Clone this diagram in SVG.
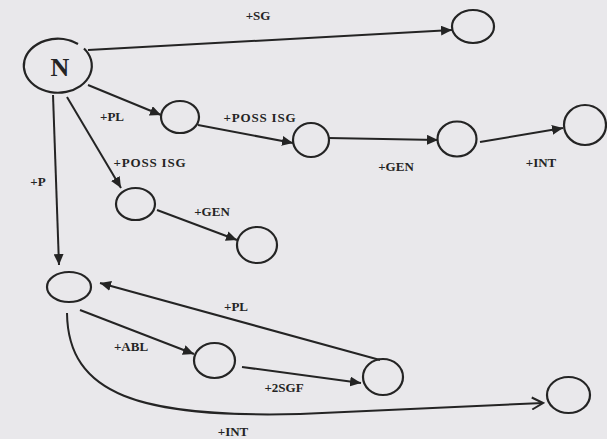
<svg xmlns="http://www.w3.org/2000/svg" width="607" height="439" viewBox="0 0 607 439">
  <style>
    .node { fill: none; stroke: #242424; stroke-width: 2.2; }
    .edge { fill: none; stroke: #242424; stroke-width: 2; }
    .lbl { font-family: "Liberation Serif", "Times New Roman", serif; font-weight: bold; font-size: 13px; fill: #242424; text-anchor: middle; }
    .big { font-family: "Liberation Serif", "Times New Roman", serif; font-weight: bold; font-size: 26px; fill: #242424; text-anchor: middle; }
  </style>
  <defs>
    <marker id="tri" markerUnits="userSpaceOnUse" markerWidth="12" markerHeight="10" refX="11" refY="5" orient="auto">
      <path d="M0,0 L11,5 L0,10 Z" fill="#242424"/>
    </marker>
    <marker id="vee" markerUnits="userSpaceOnUse" markerWidth="14" markerHeight="14" refX="12" refY="7" orient="auto">
      <path d="M1,1 L12,7 L1,13" fill="none" stroke="#242424" stroke-width="2"/>
    </marker>
  </defs>
  <rect width="607" height="439" fill="#e9e8eb"/>

  <g id="connectors">
    <path class="edge" d="M88,50 L452,30" marker-end="url(#tri)"/>
    <path class="edge" d="M88,85 L161,115" marker-end="url(#tri)"/>
    <path class="edge" d="M67,97 L121,188" marker-end="url(#tri)"/>
    <path class="edge" d="M53,95 L59,265" marker-end="url(#tri)"/>
    <path class="edge" d="M198,125 L293,143" marker-end="url(#tri)"/>
    <path class="edge" d="M328,138 L438,140" marker-end="url(#tri)"/>
    <path class="edge" d="M480,142 L563,128" marker-end="url(#tri)"/>
    <path class="edge" d="M157,210 L237,240" marker-end="url(#tri)"/>
    <path class="edge" d="M380,360 L100,283" marker-end="url(#tri)"/>
    <path class="edge" d="M80,310 L194,354" marker-end="url(#tri)"/>
    <path class="edge" d="M242,367 L361,383" marker-end="url(#tri)"/>
    <path class="edge" d="M67,313 C68,395 140,418 300,414 L543,403" marker-end="url(#vee)"/>
  </g>

  <!-- root node: outline left open at the upper right where the +SG line leaves -->
  <g id="n-root">
    <path class="node" d="M84,48.5 A34,27 0 1,1 78,44"/>
    <text class="big" x="60" y="76">N</text>
  </g>
  <g id="n-sg"><ellipse class="node" cx="473" cy="26.5" rx="21" ry="16.5"/></g>
  <g id="n-pl"><ellipse class="node" cx="180" cy="117" rx="19" ry="16"/></g>
  <g id="n-pl-poss"><ellipse class="node" cx="311" cy="140" rx="18" ry="17"/></g>
  <g id="n-pl-poss-gen"><ellipse class="node" cx="457" cy="139" rx="19.5" ry="17.5"/></g>
  <g id="n-pl-poss-gen-int"><ellipse class="node" cx="585" cy="125" rx="21" ry="20"/></g>
  <g id="n-poss"><ellipse class="node" cx="135.5" cy="204" rx="19.5" ry="16"/></g>
  <g id="n-poss-gen"><ellipse class="node" cx="257" cy="245" rx="20" ry="18"/></g>
  <g id="n-p"><ellipse class="node" cx="69" cy="287" rx="22" ry="15"/></g>
  <g id="n-abl"><ellipse class="node" cx="214.5" cy="360.5" rx="20.5" ry="17.5"/></g>
  <g id="n-2sgf"><ellipse class="node" cx="383" cy="377" rx="20" ry="18"/></g>
  <g id="n-int"><ellipse class="node" cx="568.5" cy="395" rx="21.5" ry="18"/></g>

  <g id="labels">
    <text class="lbl" x="258" y="20">+SG</text>
    <text class="lbl" x="112" y="121">+PL</text>
    <text class="lbl" x="150" y="167" letter-spacing="0.8">+POSS ISG</text>
    <text class="lbl" x="38" y="186">+P</text>
    <text class="lbl" x="260" y="122" letter-spacing="0.8">+POSS ISG</text>
    <text class="lbl" x="396" y="171">+GEN</text>
    <text class="lbl" x="541" y="167">+INT</text>
    <text class="lbl" x="212" y="216">+GEN</text>
    <text class="lbl" x="236" y="311">+PL</text>
    <text class="lbl" x="131" y="351">+ABL</text>
    <text class="lbl" x="284" y="392">+2SGF</text>
    <text class="lbl" x="233" y="436">+INT</text>
  </g>
</svg>
